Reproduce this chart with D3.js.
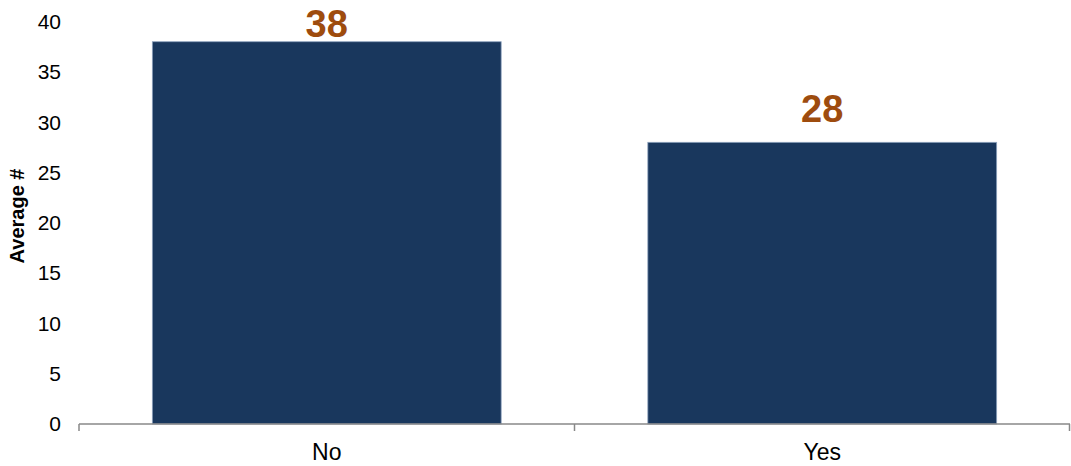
<!DOCTYPE html>
<html>
<head>
<meta charset="utf-8">
<script src="https://cdn.jsdelivr.net/npm/d3@7"></script>
<style>
  body { margin: 0; background: #fff; }
  svg { display: block; font-family: "Liberation Sans", Arial, sans-serif; }
</style>
</head>
<body>
<div id="chart"></div>
<script>
var categories = ["No", "Yes"];
var values = [38, 28];
var yTicks = [0, 5, 10, 15, 20, 25, 30, 35, 40];

var width = 1071,
    height = 466,
    margin = { top: 21.6, right: 1, bottom: 42, left: 79 };

var svg = d3.select("#chart").append("svg")
    .attr("width", width)
    .attr("height", height);

var x = d3.scaleBand()
    .domain(categories)
    .range([margin.left, width - margin.right])
    .paddingInner(0.296)
    .paddingOuter(0.148);

var y = d3.scaleLinear()
    .domain([0, 40])
    .range([height - margin.bottom, margin.top]);

// y tick labels (no axis line)
svg.append("g")
  .selectAll("text")
  .data(yTicks)
  .enter().append("text")
    .attr("x", 61)
    .attr("y", function(d) { return y(d); })
    .attr("dy", "0.35em")
    .attr("text-anchor", "end")
    .style("font-size", "21px")
    .style("fill", "#000")
    .text(function(d) { return d; });

// y title
svg.append("text")
    .attr("transform", "translate(24,216) rotate(-90)")
    .attr("text-anchor", "middle")
    .style("font-size", "20px")
    .style("font-weight", "bold")
    .text("Average #");

// bars
svg.append("g")
  .selectAll("rect")
  .data(values)
  .enter().append("rect")
    .attr("x", function(d, i) { return x(categories[i]); })
    .attr("y", function(d) { return y(d); })
    .attr("width", x.bandwidth())
    .attr("height", function(d) { return y(0) - y(d); })
    .style("fill", "#19375D")
    .style("stroke", "#8da2bd")
    .style("stroke-width", 0.8);

// bar value labels
svg.append("g")
  .selectAll("text")
  .data(values)
  .enter().append("text")
    .attr("x", function(d, i) { return x(categories[i]) + x.bandwidth() / 2; })
    .attr("y", function(d) { return Math.max(y(d) - 20, 37); })
    .attr("text-anchor", "middle")
    .style("font-size", "38px")
    .style("font-weight", "bold")
    .style("fill", "#9E4C0E")
    .text(function(d) { return d; });

// x axis line with ticks at category boundaries
var xRange = x.range();
var base = y(0);
var boundaries = [xRange[0]].concat(categories.map(function(c) { return x(c) + x.bandwidth() + x.step() * x.paddingInner() / 2; }));
boundaries[boundaries.length - 1] = xRange[1] - 0.5;

svg.append("line")
    .attr("x1", xRange[0])
    .attr("x2", xRange[1])
    .attr("y1", base)
    .attr("y2", base)
    .style("stroke", "#888")
    .style("stroke-width", 1.5);

svg.append("g")
  .selectAll("line")
  .data(boundaries)
  .enter().append("line")
    .attr("x1", function(d) { return d; })
    .attr("x2", function(d) { return d; })
    .attr("y1", base)
    .attr("y2", base + 7)
    .style("stroke", "#888")
    .style("stroke-width", 1.5);

// x labels
svg.append("g")
  .selectAll("text")
  .data(categories)
  .enter().append("text")
    .attr("x", function(d) { return x(d) + x.bandwidth() / 2; })
    .attr("y", 460)
    .attr("text-anchor", "middle")
    .style("font-size", "23px")
    .text(function(d) { return d; });
</script>
</body>
</html>
